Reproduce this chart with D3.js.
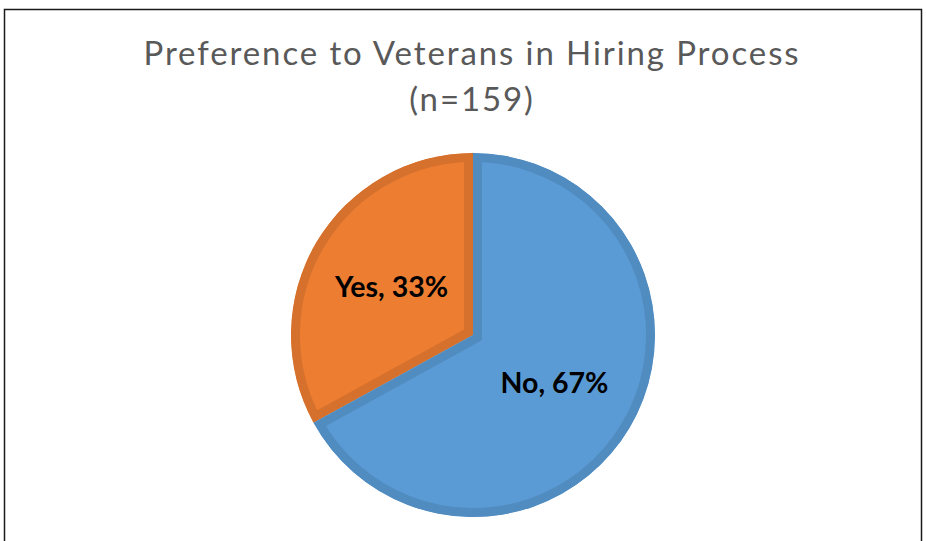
<!DOCTYPE html>
<html>
<head>
<meta charset="utf-8">
<script src="https://cdn.jsdelivr.net/npm/d3@7"></script>
<style>
  html, body { margin: 0; padding: 0; background: #fff; }
  svg { display: block; }
</style>
</head>
<body>
<svg id="chart" width="926" height="541"></svg>
<script>
// Survey answers, percent of respondents
const categories = ["Yes", "No"];
const values = [33, 67];
const titleLines = ["Preference to Veterans in Hiring Process", "(n=159)"];

const fills = { Yes: "#ED7D31", No: "#5B9BD5" };
const edges = { Yes: "#D5712D", No: "#518CC1" };

const svg = d3.select("#chart");

// chart frame
svg.append("rect")
  .attr("x", 4.5).attr("y", 9.5)
  .attr("width", 917).attr("height", 540)
  .attr("fill", "#fff")
  .attr("stroke", "#1a1a1a")
  .attr("stroke-width", 1.5);

// title
svg.append("g").selectAll("text")
  .data(titleLines)
  .join("text")
  .attr("x", 472)
  .attr("y", (d, i) => 65 + i * 46)
  .attr("text-anchor", "middle")
  .attr("font-family", "Lato, 'Open Sans', sans-serif")
  .attr("font-weight", 400)
  .attr("font-size", 33)
  .attr("fill", "#595959")
  .attr("letter-spacing", 1.9)
  .text(d => d);

const cx = 473, cy = 335, r = 182;
const data = categories.map((c, i) => ({ name: c, value: values[i] }));

// Yes runs counter-clockwise from 12 o'clock, No fills the rest
const yesAngle = 2 * Math.PI * values[0] / d3.sum(values);
const pie = d3.pie()
  .value(d => d.value)
  .sort(null)
  .startAngle(-yesAngle)
  .endAngle(2 * Math.PI - yesAngle);

const arcs = pie(data);
const arc = d3.arc().innerRadius(0).outerRadius(r);
const labelArc = d3.arc().innerRadius(r * 0.52).outerRadius(r * 0.52);

const g = svg.append("g").attr("transform", `translate(${cx},${cy})`);

const defs = svg.append("defs");
defs.selectAll("clipPath")
  .data(arcs)
  .join("clipPath")
  .attr("id", d => "clip-" + d.data.name)
  .append("path")
  .attr("d", arc);

// slices with an inset darker edge
g.selectAll("path.slice")
  .data(arcs)
  .join("path")
  .attr("class", "slice")
  .attr("d", arc)
  .attr("fill", d => fills[d.data.name])
  .attr("stroke", d => edges[d.data.name])
  .attr("stroke-width", 18)
  .attr("stroke-linejoin", "miter")
  .attr("clip-path", d => `url(#clip-${d.data.name})`);

// data labels
g.selectAll("text.lbl")
  .data(arcs)
  .join("text")
  .attr("class", "lbl")
  .attr("transform", d => {
    const [x, y] = labelArc.centroid(d);
    return `translate(${x},${y})`;
  })
  .attr("text-anchor", "middle")
  .attr("dy", "0.36em")
  .attr("font-family", "Lato, 'Open Sans', sans-serif")
  .attr("font-weight", 700)
  .attr("font-size", 28.5)
  .attr("fill", "#000")
  .text(d => `${d.data.name}, ${d.data.value}%`);
</script>
</body>
</html>
